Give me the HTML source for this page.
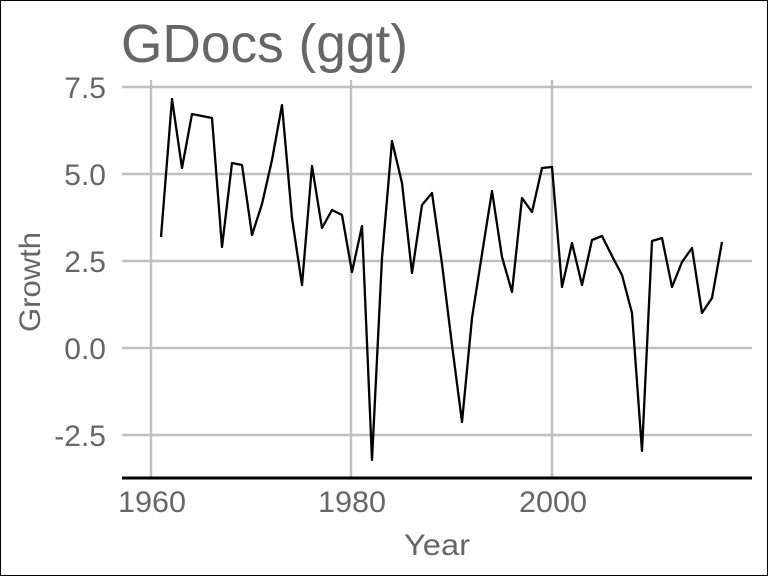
<!DOCTYPE html>
<html><head><style>
html,body{margin:0;padding:0;background:#fff;}
svg{display:block;}
</style></head><body>
<svg width="768" height="576" xmlns="http://www.w3.org/2000/svg">
<rect x="0.5" y="0.5" width="767" height="575" fill="#fff" stroke="#000" stroke-width="1"/>
<text x="121" y="62" font-family="Liberation Sans, sans-serif" font-size="54" fill="#666" textLength="287" lengthAdjust="spacingAndGlyphs">GDocs (ggt)</text>
<g stroke="#c0c0c0" stroke-width="2.5">
<line x1="151" y1="80" x2="151" y2="478"/>
<line x1="351" y1="80" x2="351" y2="478"/>
<line x1="552" y1="80" x2="552" y2="478"/>
<line x1="122" y1="87" x2="752" y2="87"/>
<line x1="122" y1="174" x2="752" y2="174"/>
<line x1="122" y1="261" x2="752" y2="261"/>
<line x1="122" y1="348" x2="752" y2="348"/>
<line x1="122" y1="435" x2="752" y2="435"/>
</g>
<line x1="122" y1="478" x2="752" y2="478" stroke="#000" stroke-width="3"/>
<g font-family="Liberation Sans, sans-serif" font-size="30" fill="#666" text-anchor="end">
<text x="106" y="98">7.5</text>
<text x="106" y="185">5.0</text>
<text x="106" y="272">2.5</text>
<text x="106" y="359">0.0</text>
<text x="106" y="446">-2.5</text>
</g>
<g font-family="Liberation Sans, sans-serif" font-size="30" fill="#666" text-anchor="middle">
<text x="152" y="512" textLength="68" lengthAdjust="spacingAndGlyphs">1960</text>
<text x="352" y="512" textLength="68" lengthAdjust="spacingAndGlyphs">1980</text>
<text x="553" y="512" textLength="68" lengthAdjust="spacingAndGlyphs">2000</text>
<text x="437" y="555" textLength="66" lengthAdjust="spacingAndGlyphs">Year</text>
</g>
<text transform="translate(40,282) rotate(-90)" font-family="Liberation Sans, sans-serif" font-size="30" fill="#666" text-anchor="middle" textLength="100" lengthAdjust="spacingAndGlyphs">Growth</text>
<polyline fill="none" stroke="#000" stroke-width="2.3" stroke-linejoin="round" points="161,237 172,99 182,168 192,114 202,116 212,118 222,247 232,163 242,165 252,235 262,204 272,160 282,105 292,218 302,285 312,166 322,228 332,210 342,215 352,272 362,226 372,460 382,258 392,141 402,183 412,273 422,205 432,193 442,264 452,345 462,422 472,318 482,254 492,191 502,257 512,292 522,198 532,212 542,168 552,167 562,287 572,243 582,285 592,240 602,236 612,256 622,275 632,313 642,451 652,241 662,238 672,287 682,262 692,248 702,313 712,298 722,242"/>
</svg>
</body></html>
